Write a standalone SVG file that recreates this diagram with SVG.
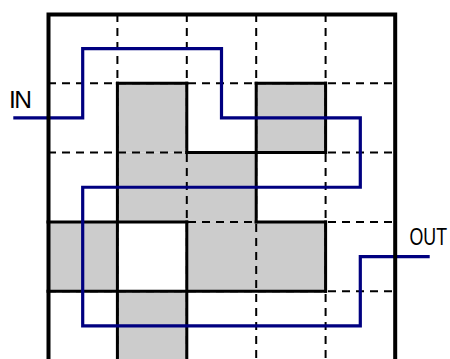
<svg xmlns="http://www.w3.org/2000/svg" width="450" height="359" viewBox="0 0 450 359">
<style>
.cell{fill:#cccccc;stroke:none}
.dash{stroke:#000;stroke-width:2;stroke-dasharray:8,6;fill:none}
.solid{stroke:#000;stroke-width:3;fill:none;stroke-linecap:square}
.frame{stroke:#000;stroke-width:4;fill:none}
.route{stroke:#000080;stroke-width:3.2;fill:none}
.lbl{font-family:"Liberation Sans",Arial,sans-serif;font-size:24.5px;fill:#000}
</style>
<rect width="450" height="359" fill="#fff"/>
<g id="cells">
<rect class="cell" x="117.4" y="83.3" width="69.4" height="69.3"/>
<rect class="cell" x="256.2" y="83.3" width="69.4" height="69.3"/>
<rect class="cell" x="117.4" y="152.6" width="138.8" height="69.3"/>
<rect class="cell" x="48" y="221.9" width="69.4" height="69.3"/>
<rect class="cell" x="186.8" y="221.9" width="138.8" height="69.3"/>
<rect class="cell" x="117.4" y="291.2" width="69.4" height="69.3"/>
</g>
<g id="grid-dashed">
<path class="dash" d="M117.4,14V361M186.8,14V361M256.2,14V361M325.6,14V361"/>
<path class="dash" d="M48,83.3H395M48,152.6H395M48,221.9H395M48,291.2H395"/>
</g>
<g id="grid-solid">
<path class="solid" d="M117.4,83.3H186.8M256.2,83.3H325.6"/>
<path class="solid" d="M186.8,152.6H325.6"/>
<path class="solid" d="M48,221.9H186.8M256.2,221.9H325.6"/>
<path class="solid" d="M48,291.2H325.6"/>
<path class="solid" d="M117.4,83.3V361"/>
<path class="solid" d="M186.8,83.3V152.6M186.8,221.9V361"/>
<path class="solid" d="M256.2,83.3V221.9"/>
<path class="solid" d="M325.6,83.3V152.6M325.6,221.9V291.2"/>
</g>
<g id="connectors">
<path class="route" d="M13.3,117.95H82.7V48.65H221.5V117.95H360.3V187.25H82.7V325.85H360.3V256.55H429.7"/>
</g>
<g id="frame">
<path class="frame" d="M48.5,361V14.5H395.2V361"/>
</g>
<g id="labels">
<text class="lbl" x="9" y="108" textLength="23" lengthAdjust="spacing">IN</text>
<text class="lbl" x="409.5" y="245" textLength="37.5" lengthAdjust="spacingAndGlyphs">OUT</text>
</g>
</svg>
